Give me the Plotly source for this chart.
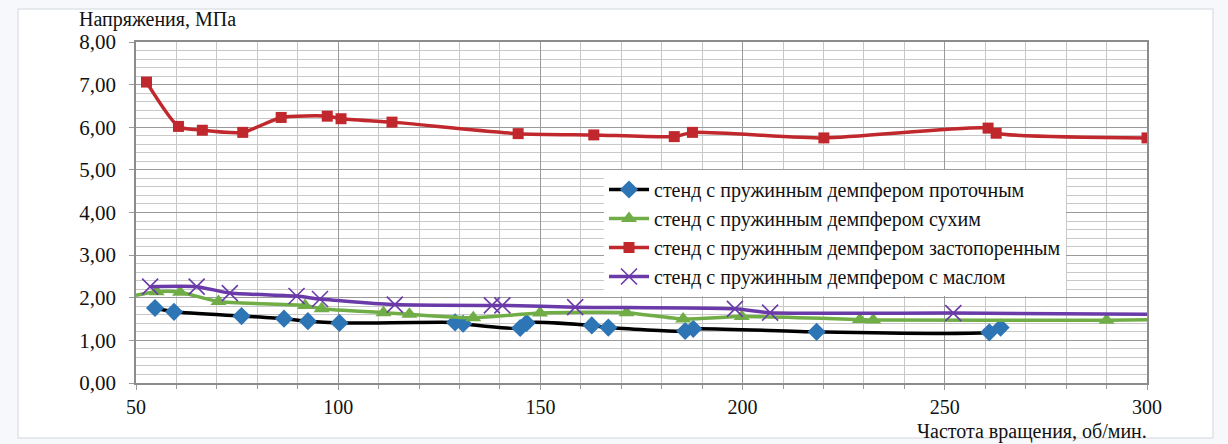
import plotly.graph_objects as go

# ---- data ----
blue_name = "стенд с пружинным демпфером проточным"
blue_x = [54.7, 59.4, 76.1, 86.6, 92.5, 100.3, 128.9, 130.9, 145.0, 146.6, 162.7, 166.8, 185.8, 187.8, 218.3, 261.0, 263.8]
blue_y = [1.76, 1.67, 1.57, 1.51, 1.45, 1.41, 1.42, 1.39, 1.29, 1.41, 1.35, 1.30, 1.22, 1.27, 1.20, 1.19, 1.30]

green_name = "стенд с пружинным демпфером сухим"
green_x = [47.0, 55.1, 60.9, 70.4, 91.8, 95.9, 111.2, 117.6, 133.4, 149.9, 171.3, 185.3, 199.8, 229.0, 232.3, 290.0, 305.0]
green_y = [2.00, 2.14, 2.13, 1.91, 1.82, 1.74, 1.65, 1.61, 1.53, 1.64, 1.65, 1.50, 1.56, 1.49, 1.48, 1.47, 1.49]

red_name = "стенд с пружинным демпфером застопоренным"
red_x = [52.6, 60.5, 66.4, 76.4, 85.9, 97.3, 100.7, 113.3, 144.5, 163.2, 183.1, 187.6, 220.1, 260.7, 262.7, 300.0]
red_y = [7.06, 6.02, 5.93, 5.88, 6.23, 6.26, 6.20, 6.12, 5.85, 5.82, 5.78, 5.88, 5.75, 5.98, 5.86, 5.75]

purple_name = "стенд с пружинным демпфером с маслом"
purple_x = [53.5, 65.0, 73.2, 89.7, 95.5, 114.0, 138.0, 140.6, 158.6, 198.1, 206.8, 252.1, 305.0]
purple_y = [2.26, 2.26, 2.11, 2.04, 1.97, 1.84, 1.82, 1.82, 1.78, 1.74, 1.65, 1.64, 1.61]

y_title = "Напряжения, МПа"
x_title = "Частота вращения, об/мин."

SERIF = "Liberation Serif, Times New Roman, serif"

fig = go.Figure()
fig.add_trace(go.Scatter(
    x=blue_x, y=blue_y, name=blue_name, mode="lines+markers",
    line=dict(color="#000000", width=3.5, shape="spline", smoothing=0.6),
    marker=dict(symbol="diamond", size=14, color="#2e75b6"),
))
fig.add_trace(go.Scatter(
    x=green_x, y=green_y, name=green_name, mode="lines+markers",
    line=dict(color="#70ad47", width=3.5, shape="spline", smoothing=0.6),
    marker=dict(symbol="triangle-up", size=14, color="#70ad47"),
))
fig.add_trace(go.Scatter(
    x=red_x, y=red_y, name=red_name, mode="lines+markers",
    line=dict(color="#c0282d", width=3.5, shape="spline", smoothing=0.6),
    marker=dict(symbol="square", size=11, color="#c0282d"),
))
fig.add_trace(go.Scatter(
    x=purple_x, y=purple_y, name=purple_name, mode="lines+markers",
    line=dict(color="#6a3aa8", width=3.5, shape="spline", smoothing=0.6),
    marker=dict(symbol="x-thin", size=16, color="#6a3aa8",
                line=dict(width=1.6, color="#6a3aa8")),
))

# plot area in pixels: left 136, right 1147, top 42, bottom 383
L, R, T, B = 136, 81, 42, 61
W, H = 1228, 444
pw, ph = W - L - R, H - T - B

def px_x(p):
    return (p - L) / pw

def px_y(p):
    return (H - B - p) / ph

fig.add_shape(type="rect", xref="paper", yref="paper", layer="below",
              x0=px_x(18), x1=px_x(1213), y0=px_y(438), y1=px_y(9),
              fillcolor="#ffffff", line=dict(color="#dfe3e8", width=1.5))

fig.update_layout(
    width=W, height=H,
    margin=dict(l=L, r=R, t=T, b=B),
    paper_bgcolor="#f6f8fb",
    plot_bgcolor="#ffffff",
    separators=", ",
    font=dict(family=SERIF, size=18, color="#111111"),
    showlegend=True,
    legend=dict(
        x=px_x(604), y=px_y(170), xanchor="left", yanchor="top",
        bgcolor="#ffffff", borderwidth=0,
        font=dict(family=SERIF, size=20, color="#111111"),
        itemwidth=40, tracegroupgap=0,
    ),
    xaxis=dict(
        range=[50, 300], dtick=50, tick0=50,
        showgrid=True, gridcolor="#9a9a9a", gridwidth=1,
        minor=dict(dtick=10, showgrid=True, gridcolor="#c8c8c8", gridwidth=1,
                   ticks="outside", ticklen=4, tickcolor="#9a9a9a"),
        ticks="outside", ticklen=5, tickcolor="#9a9a9a",
        showline=True, linecolor="#8c8c8c", linewidth=1.5, mirror=True,
        zeroline=False,
        tickfont=dict(family=SERIF, size=20, color="#111111"),
        ticklabelstandoff=0,
    ),
    yaxis=dict(
        range=[0, 8], dtick=1, tickformat=".2f",
        showgrid=True, gridcolor="#9a9a9a", gridwidth=1,
        minor=dict(dtick=0.2, showgrid=True, gridcolor="#c8c8c8", gridwidth=1),
        ticks="outside", ticklen=5, tickcolor="#9a9a9a",
        showline=True, linecolor="#8c8c8c", linewidth=1.5, mirror=True,
        zeroline=False,
        tickfont=dict(family=SERIF, size=21, color="#111111"),
        ticklabelstandoff=9,
    ),
    annotations=[
        dict(text=y_title, xref="paper", yref="paper", x=px_x(77), y=px_y(19),
             xanchor="left", yanchor="middle", showarrow=False,
             font=dict(family=SERIF, size=20, color="#111111")),
        dict(text=x_title, xref="paper", yref="paper", x=px_x(1149), y=px_y(431),
             xanchor="right", yanchor="middle", showarrow=False,
             font=dict(family=SERIF, size=20, color="#111111")),
    ],
)

fig.write_html("out.html", config={"displayModeBar": False},
               post_script="document.body.style.margin='0';document.body.style.overflow='hidden';")
